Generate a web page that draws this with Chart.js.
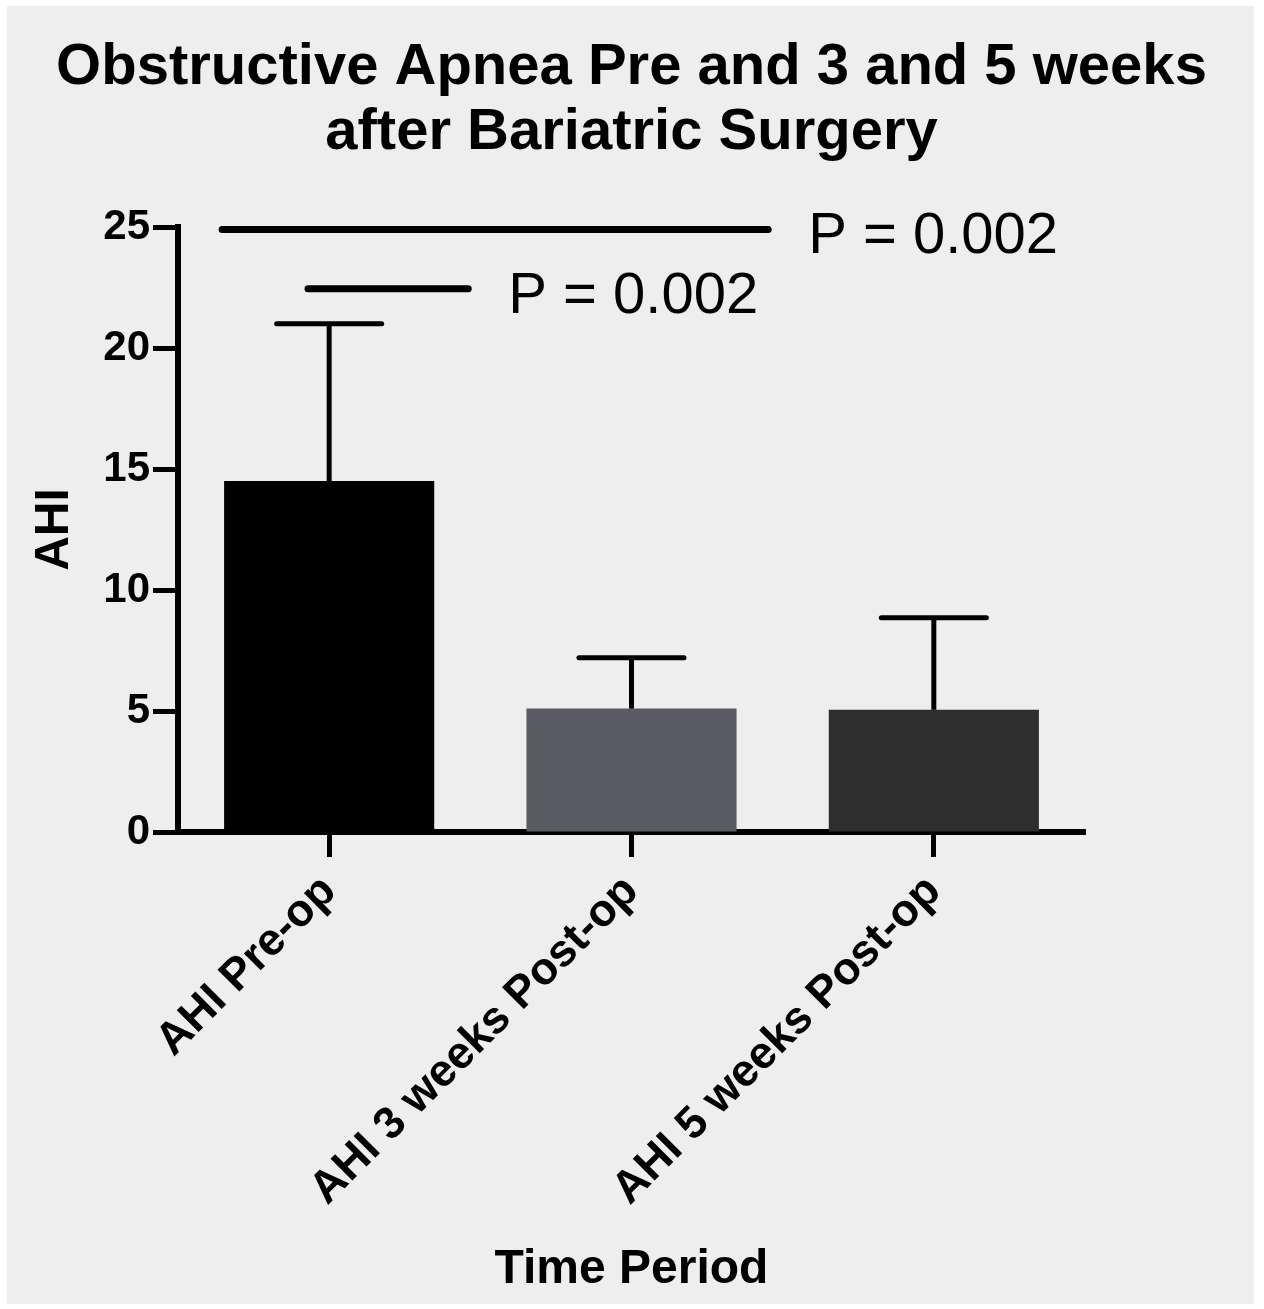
<!DOCTYPE html>
<html>
<head>
<meta charset="utf-8">
<script src="https://cdn.jsdelivr.net/npm/chart.js@4"></script>
<style>
    html, body { margin: 0; padding: 0; background: #ffffff; }
    #panel {
        position: absolute;
        left: 7px;
        top: 6px;
        width: 1247px;
        height: 1298px;
        background: #eeeeee;
    }
</style>
</head>
<body>
<div id="panel"><canvas id="ahiChart"></canvas></div>
<script>
// 数据
const titleLines = ['Obstructive Apnea Pre and 3 and 5 weeks', 'after Bariatric Surgery'];
const categories = ['AHI Pre-op', 'AHI 3 weeks Post-op', 'AHI 5 weeks Post-op'];
const meanValues = [14.5, 5.1, 5.05];
const errorTops = [21.0, 7.2, 8.85];
const barColors = ['#000000', '#5a5a62', '#2e2e2e'];
const yTicks = [0, 5, 10, 15, 20, 25];

// 显著性标注 (x 以类别索引为单位)
const sigFrom = [-0.354, -0.07];
const sigTo = [1.452, 0.46];
const sigLevel = [24.9, 22.45];
const sigText = ['P = 0.002', 'P = 0.002'];

const fontFamily = '"Liberation Sans", Arial, Helvetica, sans-serif';

// 标题插件 (居中于整个画布)
const titlePlugin = {
    id: 'centerTitle',
    afterDraw(chart) {
        const ctx = chart.ctx;
        ctx.save();
        ctx.font = 'bold 58px ' + fontFamily;
        ctx.fillStyle = '#000000';
        ctx.textAlign = 'center';
        ctx.textBaseline = 'middle';
        titleLines.forEach((line, i) => {
            ctx.fillText(line, chart.width / 2 + 1, 62 + i * 65);
        });
        ctx.restore();
    }
};

// 误差线和显著性线插件
const annotationPlugin = {
    id: 'annotations',
    afterDatasetsDraw(chart) {
        const ctx = chart.ctx;
        const xScale = chart.scales.x;
        const yScale = chart.scales.y;
        const meta = chart.getDatasetMeta(0);

        ctx.save();
        ctx.strokeStyle = '#000000';

        // 误差线
        meta.data.forEach((bar, i) => {
            const x = bar.x;
            const capHalf = bar.width / 4;
            const yTop = yScale.getPixelForValue(errorTops[i]);
            const yBar = yScale.getPixelForValue(meanValues[i]);
            ctx.lineWidth = 5;
            ctx.lineCap = 'butt';
            ctx.beginPath();
            ctx.moveTo(x, yBar);
            ctx.lineTo(x, yTop);
            ctx.stroke();
            ctx.lineCap = 'round';
            ctx.beginPath();
            ctx.moveTo(x - capHalf, yTop);
            ctx.lineTo(x + capHalf, yTop);
            ctx.stroke();
        });

        // 显著性线和文字
        ctx.font = '58px ' + fontFamily;
        ctx.fillStyle = '#000000';
        ctx.textBaseline = 'middle';
        ctx.textAlign = 'left';
        sigLevel.forEach((level, i) => {
            const unit = xScale.getPixelForValue(1) - xScale.getPixelForValue(0);
            const x1 = xScale.getPixelForValue(0) + sigFrom[i] * unit;
            const x2 = xScale.getPixelForValue(0) + sigTo[i] * unit;
            const y = yScale.getPixelForValue(level);
            ctx.lineWidth = 7;
            ctx.lineCap = 'round';
            ctx.beginPath();
            ctx.moveTo(x1, y);
            ctx.lineTo(x2, y);
            ctx.stroke();
            ctx.fillText(sigText[i], x2 + 40, y + 8);
        });

        ctx.restore();
    }
};

const ahiChart = new Chart(document.getElementById('ahiChart'), {
    type: 'bar',
    data: {
        labels: categories,
        datasets: [{
            data: meanValues,
            backgroundColor: barColors,
            borderWidth: 0,
            barPercentage: 0.695,
            categoryPercentage: 1.0
        }]
    },
    options: {
        responsive: true,
        maintainAspectRatio: false,
        animation: false,
        layout: {
            padding: { left: 0, right: 169, top: 221, bottom: 0 }
        },
        plugins: {
            legend: { display: false },
            tooltip: { enabled: false },
            title: { display: false }
        },
        scales: {
            x: {
                offset: true,
                grid: {
                    offset: false,
                    drawOnChartArea: false,
                    drawTicks: true,
                    tickLength: 25,
                    tickWidth: 5,
                    tickColor: '#000000'
                },
                border: { display: true, color: '#000000', width: 6 },
                ticks: {
                    color: '#000000',
                    font: { family: fontFamily, size: 45, weight: 'bold' },
                    minRotation: 45,
                    maxRotation: 45,
                    padding: 8
                },
                title: {
                    display: true,
                    text: 'Time Period',
                    color: '#000000',
                    font: { family: fontFamily, size: 48, weight: 'bold' },
                    padding: { top: 0, bottom: 5 }
                },
                afterFit(scale) {
                    scale.height = 472;
                }
            },
            y: {
                min: 0,
                max: 25,
                afterBuildTicks(scale) {
                    scale.ticks = yTicks.map(v => ({ value: v }));
                },
                grid: {
                    drawOnChartArea: false,
                    drawTicks: true,
                    tickLength: 25,
                    tickWidth: 5,
                    tickColor: '#000000'
                },
                border: { display: true, color: '#000000', width: 6 },
                ticks: {
                    color: '#000000',
                    font: { family: fontFamily, size: 42, weight: 'bold' },
                    padding: 3
                },
                title: {
                    display: true,
                    text: 'AHI',
                    color: '#000000',
                    font: { family: fontFamily, size: 48, weight: 'bold' },
                    padding: { top: 19, bottom: 0 }
                },
                afterFit(scale) {
                    scale.width = 171;
                }
            }
        }
    },
    plugins: [annotationPlugin, titlePlugin]
});
</script>
</body>
</html>
